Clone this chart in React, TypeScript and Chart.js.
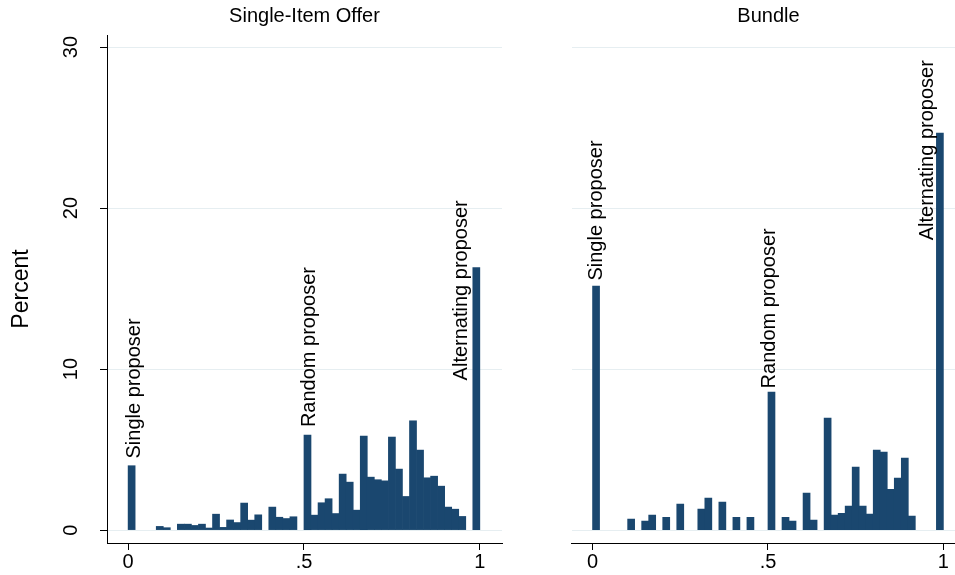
import React, { useEffect, useRef } from 'react';
import { Chart, registerables } from 'chart.js';

Chart.register(...registerables);

// ---------- data ----------
const BIN_WIDTH = 0.02;
const X_TICKS = [0, 0.5, 1];
const X_TICK_LABELS = ['0', '.5', '1'];
const Y_TICKS = [0, 10, 20, 30];
const Y_TICK_LABELS = ['0', '10', '20', '30'];
const PANEL_TITLES = ['Single-Item Offer', 'Bundle'];
const Y_TITLE = 'Percent';

// percent per bin (bins of width 0.02 from 0 to 1)
const SINGLE_ITEM_PCT = [
  4.0, 0, 0, 0, 0.23, 0.15, 0, 0.37, 0.37, 0.29,
  0.37, 0.13, 0.99, 0.17, 0.63, 0.47, 1.68, 0.62, 0.95, 0,
  1.43, 0.8, 0.72, 0.83, 0, 5.9, 0.93, 1.7, 1.95, 1.03,
  3.48, 2.98, 1.24, 5.84, 3.29, 3.13, 3.06, 5.78, 3.79, 2.09,
  6.79, 4.97, 3.25, 3.35, 2.73, 1.43, 1.3, 0.85, 0, 16.3,
];
const BUNDLE_PCT = [
  15.15, 0, 0, 0, 0, 0.68, 0, 0.56, 0.93, 0,
  0.8, 0, 1.61, 0, 0, 1.3, 1.99, 0, 1.74, 0,
  0.8, 0, 0.8, 0, 0, 8.57, 0, 0.8, 0.56, 0,
  2.3, 0.62, 0, 6.96, 0.93, 1.05, 1.49, 3.91, 1.49, 0.99,
  4.97, 4.84, 2.54, 3.23, 4.47, 0.87, 0, 0, 0, 24.66,
];

const NOTE_LABELS = ['Single proposer', 'Random proposer', 'Alternating proposer'];
const SINGLE_ITEM_NOTE_X = [0.019, 0.516, 0.949];
const SINGLE_ITEM_NOTE_Y = [4.45, 6.4, 9.3];
const BUNDLE_NOTE_X = [0.01, 0.503, 0.956];
const BUNDLE_NOTE_Y = [15.5, 8.8, 18.0];

// ---------- style ----------
const FONT = '"Liberation Sans", Arial, Helvetica, sans-serif';
const BAR = '#1a476f';
const GRID = '#e6eef1';
const X_MIN = -0.06;
const X_MAX = 1.063;
const Y_MIN = -0.8;
const Y_MAX = 30.75;

const notePlugin = {
  id: 'noteText',
  afterDatasetsDraw(chart: any, _args: any, opts: any) {
    const { ctx } = chart;
    const xs = chart.scales.x;
    const ys = chart.scales.y;
    const items = opts.items || [];
    ctx.save();
    ctx.fillStyle = '#000';
    ctx.font = `20px ${FONT}`;
    ctx.textAlign = 'left';
    ctx.textBaseline = 'middle';
    for (const it of items) {
      const px = xs.getPixelForValue(it.x);
      const py = ys.getPixelForValue(it.y);
      ctx.save();
      ctx.translate(px, py);
      ctx.rotate(-Math.PI / 2);
      ctx.fillText(it.text, 0, 0);
      ctx.restore();
    }
    ctx.restore();
  },
};

function buildConfig(p: {
  values: number[];
  title: string;
  noteX: number[];
  noteY: number[];
  showY: boolean;
  padLeft: number;
  padRight: number;
}): any {
  const data = p.values.map((v, i) => ({ x: (i + 0.5) * BIN_WIDTH, y: v === 0 ? null : v }));
  const notes = NOTE_LABELS.map((t, i) => ({ text: t, x: p.noteX[i], y: p.noteY[i] }));
  return {
    type: 'bar',
    data: {
      datasets: [
        {
          data,
          backgroundColor: BAR,
          borderWidth: 0,
          barPercentage: 1,
          categoryPercentage: 1,
        },
      ],
    },
    plugins: [notePlugin],
    options: {
      animation: false,
      responsive: false,
      maintainAspectRatio: false,
      devicePixelRatio: 1,
      layout: { padding: { left: p.padLeft, right: p.padRight, top: 0, bottom: 0 } },
      plugins: {
        legend: { display: false },
        tooltip: { enabled: false },
        title: {
          display: true,
          text: p.title,
          fullSize: false,
          color: '#000',
          font: { family: FONT, size: 20, weight: 'normal', lineHeight: 1.2 },
          padding: { top: 4, bottom: 7 },
        },
        noteText: { items: notes },
      },
      scales: {
        x: {
          type: 'linear',
          min: X_MIN,
          max: X_MAX,
          offset: false,
          afterBuildTicks: (s: any) => {
            s.ticks = X_TICKS.map((v) => ({ value: v }));
          },
          afterFit: (s: any) => {
            s.height = 32;
          },
          ticks: {
            color: '#000',
            font: { family: FONT, size: 20 },
            maxRotation: 0,
            minRotation: 0,
            padding: 0,
            callback: (_v: any, i: number) => X_TICK_LABELS[i],
          },
          grid: {
            offset: false,
            drawOnChartArea: false,
            drawTicks: true,
            tickLength: 7,
            tickColor: '#000',
            color: '#000',
          },
          border: { display: true, color: '#000', width: 1 },
        },
        y: {
          type: 'linear',
          min: Y_MIN,
          max: Y_MAX,
          afterBuildTicks: (s: any) => {
            s.ticks = Y_TICKS.map((v) => ({ value: v }));
          },
          afterFit: (s: any) => {
            s.width = p.showY ? 107 : 0;
          },
          ticks: {
            display: p.showY,
            color: '#000',
            font: { family: FONT, size: 20 },
            minRotation: 90,
            maxRotation: 90,
            crossAlign: 'center',
            padding: 17,
            callback: (_v: any, i: number) => Y_TICK_LABELS[i],
          },
          grid: {
            offset: false,
            color: GRID,
            lineWidth: 1,
            drawTicks: p.showY,
            tickLength: 7,
            tickColor: '#000',
          },
          border: { display: p.showY, color: '#000', width: 1 },
          title: {
            display: p.showY,
            text: Y_TITLE,
            color: '#000',
            font: { family: FONT, size: 23 },
            padding: { top: 8, bottom: 0 },
          },
        },
      },
    },
  };
}

function Panel(props: { cfg: any; left: number; width: number }) {
  const ref = useRef<HTMLCanvasElement | null>(null);
  useEffect(() => {
    if (!ref.current) return;
    const chart = new Chart(ref.current, props.cfg);
    return () => chart.destroy();
  }, []);
  return (
    <canvas
      ref={ref}
      width={props.width}
      height={575}
      style={{ position: 'absolute', left: props.left, top: 0, width: props.width, height: 575 }}
    />
  );
}

export default function App() {
  const leftCfg = buildConfig({
    values: SINGLE_ITEM_PCT,
    title: PANEL_TITLES[0],
    noteX: SINGLE_ITEM_NOTE_X,
    noteY: SINGLE_ITEM_NOTE_Y,
    showY: true,
    padLeft: 0,
    padRight: 18,
  });
  const rightCfg = buildConfig({
    values: BUNDLE_PCT,
    title: PANEL_TITLES[1],
    noteX: BUNDLE_NOTE_X,
    noteY: BUNDLE_NOTE_Y,
    showY: false,
    padLeft: 51.5,
    padRight: 9.5,
  });
  return (
    <div
      style={{
        position: 'absolute',
        left: 0,
        top: 0,
        width: 955,
        height: 575,
        overflow: 'hidden',
        background: '#fff',
      }}
    >
      <Panel cfg={leftCfg} left={0} width={520} />
      <Panel cfg={rightCfg} left={520} width={455} />
    </div>
  );
}
